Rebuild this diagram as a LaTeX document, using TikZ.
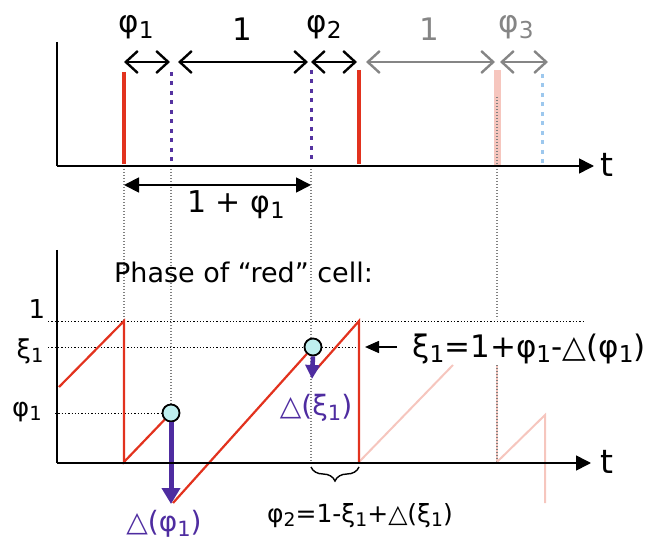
\documentclass[tikz,border=0pt]{standalone}
\usepackage{fontspec}
\setmainfont{DejaVu Sans}
\usepackage{graphicx}
\usetikzlibrary{arrows.meta, decorations.pathreplacing}
\definecolor{spikeColor}{HTML}{E2321E}
\definecolor{fadeColor}{HTML}{F6C6BE}
\definecolor{blueSpike}{HTML}{5533A0}
\definecolor{lightSpike}{HTML}{9DC8EE}
\definecolor{kickColor}{HTML}{4E2CA0}
\definecolor{dotFill}{HTML}{BFEFEF}
\definecolor{greyText}{HTML}{858585}
\newcommand{\sz}[1]{\fontsize{#1}{#1}\selectfont}
\newcommand{\sub}[1]{\raisebox{-0.35ex}{\scalebox{0.75}{#1}}}

\begin{document}
\begin{tikzpicture}[
    x=1pt, y=-1pt,
    every node/.style={inner sep=0pt},
    axisline/.style={line width=1.6pt},
    axis/.style={line width=1.6pt, -{Triangle[length=15pt, width=15pt]}},
    spike/.style={spikeColor, line width=3.5pt},
    ghost/.style={blueSpike, line width=3pt, dash pattern=on 4pt off 5.5pt},
    guide/.style={gray, line width=1.3pt, dash pattern=on 1.3pt off 1.7pt},
    level/.style={black, line width=0.9pt, dash pattern=on 1.3pt off 2pt},
    gap/.style={line width=1.8pt,
        {Straight Barb[length=12pt, width=22pt, line width=2.4pt]}-{Straight Barb[length=12pt, width=22pt, line width=2.4pt]}},
    span/.style={line width=1.8pt,
        {Triangle[length=15pt, width=15pt]}-{Triangle[length=15pt, width=15pt]}},
    phase/.style={spikeColor, line width=2.2pt},
    faded/.style={fadeColor, line width=2pt},
    kick/.style={kickColor, line width=5pt, -{Triangle[length=16pt, width=18pt]}},
    osc/.style={circle, draw, line width=1.8pt, fill=dotFill, minimum size=17pt},
    toplabel/.style={font=\sz{31}, anchor=base},
    ylabel/.style={font=\sz{26}, anchor=base},
    kicklabel/.style={font=\sz{28}, text=kickColor, anchor=base},
]
\useasboundingbox (0,0) rectangle (659,540);

% ===== guide lines between the two plots =====
\draw[guide] (124,166) -- (124,321);
\draw[guide] (171,166) -- (171,404);
\draw[guide] (311,166) -- (311,463);
\draw[guide] (497,166) -- (497,319);

% ===== upper plot: spike trains =====
\draw[fadeColor, line width=7pt] (497,70) -- (497,166);
\draw[guide] (497,97) -- (497,166);
\draw[spike] (124,72) -- (124,164);
\draw[spike] (359,70) -- (359,164);
\draw[ghost] (171,72) -- (171,164);
\draw[ghost] (311,70) -- (311,164);
\draw[ghost, lightSpike] (542,74) -- (542,164);

\draw[axisline] (57,42) -- (57,166);
\draw[axis] (57,166) -- (594,166);
\node[font=\sz{33}, anchor=base] (tTop) at (607,177) {t};

% ===== intervals =====
\draw[gap] (124,62) -- (170,62);
\draw[gap] (178,62) -- (308,62);
\draw[gap] (311,62) -- (357,62);
\draw[gap, greyText] (366,62) -- (495,62);
\draw[gap, greyText] (500,62) -- (548,62);

\node[toplabel] (phiA) at (136,33) {φ\sub{1}};
\node[toplabel] (oneA) at (242,41) {1};
\node[toplabel] (phiB) at (324,33) {φ\sub{2}};
\node[toplabel, text=greyText] (oneB) at (429,41) {1};
\node[toplabel, text=greyText] (phiC) at (516,33) {φ\sub{3}};

\draw[span] (124,185) -- (311,185);
\node[font=\sz{30}, anchor=base] (period) at (236,213) {1 + φ\sub{1}};

% ===== lower plot: phase of the red cell =====
\node[font=\sz{27}, anchor=base west] (title) at (114,283) {Phase of “red” cell:};

\draw[level] (48,321) -- (583,321);
\draw[level] (48,347) -- (360,347);
\draw[level] (55,413) -- (171,413);

\node[ylabel] (yOne) at (37,319) {1};
\node[ylabel] (yXi) at (30,358) {ξ\sub{1}};
\node[ylabel] (yPhi) at (27,416) {φ\sub{1}};

% faded continuation
\draw[faded] (359,462) -- (453,365);
\draw[faded] (497,365) -- (497,462);
\draw[guide] (497,365) -- (497,462);
\draw[faded] (497,462) -- (545,415) -- (545,503);

\node[osc] (osc1) at (171,413) {};
\node[osc] (osc2) at (313,347) {};
\coordinate (tip1) at (171,504);
\coordinate (tip2) at (312,379);

\draw[phase] (59,387) -- (124,321) -- (124,462) -- (osc1);
\draw[phase] (173,503) -- (osc2);
\draw[phase] (313,373) -- (359,321) -- (359,462);

\draw[kick] (osc1.south) -- (tip1);
\draw[kick, line width=4.5pt, -{Triangle[length=14pt, width=14pt]}] (osc2.south) -- (tip2);

\draw[axisline] (57,250) -- (57,463);
\draw[axis] (57,463) -- (591,463);
\node[font=\sz{33}, anchor=base] (tBot) at (607,473) {t};

\node[kicklabel] (dPhi) at (164,531) {△(φ\sub{1})};
\node[kicklabel] (dXi) at (316,415) {△(ξ\sub{1})};

% ===== reset value and next interval =====
\node[font=\sz{31}, anchor=base] (xiRule) at (529,357) {ξ\sub{1}=1+φ\sub{1}-△(φ\sub{1})};
\draw[line width=1.6pt, -{Triangle[length=14pt, width=12pt]}] (397,347) -- (365,347);

\draw[line width=1.4pt, decorate, decoration={brace, amplitude=14pt}] (359,467) -- (311,467);
\node[font=\sz{25}, anchor=base] (phiRule) at (360,522) {φ\sub{2}=1-ξ\sub{1}+△(ξ\sub{1})};

\end{tikzpicture}
\end{document}
